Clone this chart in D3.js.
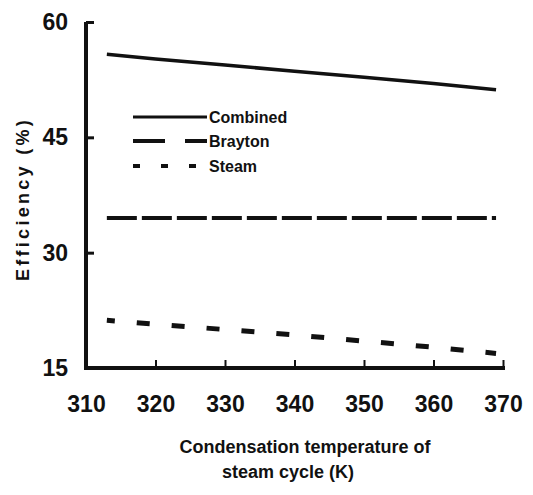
<!DOCTYPE html>
<html>
<head>
<meta charset="utf-8">
<script src="https://cdn.jsdelivr.net/npm/d3@7"></script>
<style>
html,body{margin:0;padding:0;background:#fff;}
svg{display:block;}
</style>
</head>
<body>
<svg id="chart" width="533" height="495"></svg>
<script>
// Data
const temps = [313, 320, 330, 340, 350, 360, 369];
const combined = [55.8, 55.2, 54.4, 53.6, 52.8, 52.0, 51.2];
const brayton = [34.5, 34.5, 34.5, 34.5, 34.5, 34.5, 34.5];
const steam = [21.2, 20.7, 20.0, 19.3, 18.5, 17.7, 16.9];
const xTicks = [310, 320, 330, 340, 350, 360, 370];
const yTicks = [15, 30, 45, 60];
const seriesNames = ["Combined", "Brayton", "Steam"];
const xTitle = ["Condensation temperature of", "steam cycle (K)"];
const yTitle = "Efficiency (%)";

const svg = d3.select("#chart");
const ink = "#111";
const x = d3.scaleLinear().domain([310, 370]).range([86, 503]);
const y = d3.scaleLinear().domain([15, 60]).range([368, 22]);

const styles = [
  {w: 3.5, dash: null, offset: 0, legDash: null, legW: 3},
  {w: 4, dash: "30,5", offset: 0, legDash: "32,20", legW: 4},
  {w: 5, dash: "13,22", offset: 5, legDash: "7,21", legW: 4}
];
const data = [combined, brayton, steam];

// Axes
const xAxis = d3.axisBottom(x).tickValues(xTicks).tickSize(-8).tickPadding(28).tickFormat(d3.format("d"));
const gx = svg.append("g").attr("transform", `translate(0,${y(15)})`).call(xAxis);
gx.select(".domain").attr("d", `M${x(310)},0H${x(370)+2}`).attr("stroke", ink).attr("stroke-width", 4);
gx.selectAll(".tick line").attr("stroke", ink).attr("stroke-width", 2);
gx.selectAll(".tick text").attr("fill", ink)
  .style("font-family", "'Liberation Sans Narrow','Arial Narrow',sans-serif")
  .style("font-weight", "bold").style("font-size", "23px");
gx.selectAll(".tick").filter(d => d === 310).select("line").remove();

const yAxis = d3.axisLeft(y).tickValues(yTicks).tickSize(-8).tickPadding(18);
const gy = svg.append("g").attr("transform", `translate(${x(310)},0)`).call(yAxis);
gy.select(".domain").attr("d", `M0,${y(60)}V${y(15)+2}`).attr("stroke", ink).attr("stroke-width", 4);
gy.selectAll(".tick line").attr("stroke", ink).attr("stroke-width", 3);
gy.selectAll(".tick").filter(d => d === 15).select("line").remove();
gy.selectAll(".tick text").attr("fill", ink)
  .style("font-family", "'Liberation Sans Narrow','Arial Narrow',sans-serif")
  .style("font-weight", "bold").style("font-size", "23px");

// Lines
const line = d3.line().x((d, i) => x(temps[i])).y(d => y(d));
data.forEach((vals, k) => {
  svg.append("path").datum(vals)
    .attr("d", line)
    .attr("fill", "none")
    .attr("stroke", ink)
    .attr("stroke-width", styles[k].w)
    .attr("stroke-dasharray", styles[k].dash)
    .attr("stroke-dashoffset", styles[k].offset);
});

// Legend
const legY = [117, 141, 166];
seriesNames.forEach((name, k) => {
  svg.append("line")
    .attr("x1", 133).attr("x2", 207)
    .attr("y1", legY[k]).attr("y2", legY[k])
    .attr("stroke", ink).attr("stroke-width", styles[k].legW)
    .attr("stroke-dasharray", styles[k].legDash);
  svg.append("text").text(name)
    .attr("x", 209).attr("y", legY[k]).attr("dy", "0.36em")
    .attr("fill", ink)
    .style("font-family", "'Liberation Sans',Arial,sans-serif")
    .style("font-weight", "bold").style("font-size", "16px");
});

// Titles
svg.append("text").text(xTitle[0])
  .attr("x", 305).attr("y", 447).attr("dy", "0.36em").attr("text-anchor", "middle")
  .attr("fill", ink)
  .style("font-family", "'Liberation Sans',Arial,sans-serif")
  .style("font-weight", "bold").style("font-size", "18px");
svg.append("text").text(xTitle[1])
  .attr("x", 288).attr("y", 472).attr("dy", "0.36em").attr("text-anchor", "middle")
  .attr("fill", ink)
  .style("font-family", "'Liberation Sans',Arial,sans-serif")
  .style("font-weight", "bold").style("font-size", "18px");
svg.append("text").text(yTitle)
  .attr("transform", "translate(23,199) rotate(-90)")
  .attr("dy", "0.36em").attr("text-anchor", "middle")
  .attr("fill", ink)
  .style("font-family", "'Liberation Sans',Arial,sans-serif")
  .style("font-weight", "bold").style("font-size", "18px")
  .style("letter-spacing", "3.3px");
</script>
</body>
</html>
